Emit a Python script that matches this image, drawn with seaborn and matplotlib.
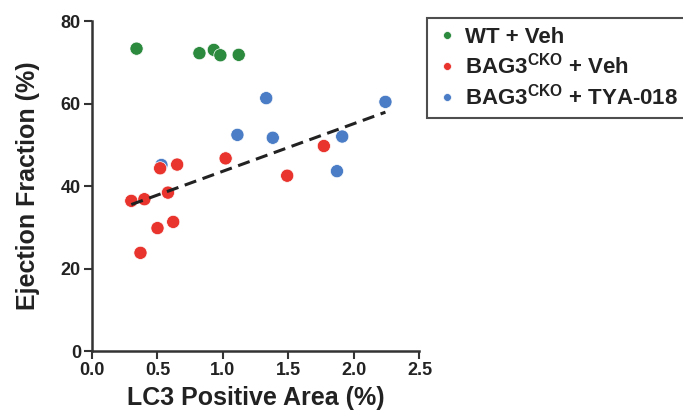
import numpy as np
import pandas as pd
import matplotlib
matplotlib.use("Agg")
import matplotlib.pyplot as plt
import seaborn as sns

# LC3 positive area (%) and ejection fraction (%) per animal
wt_veh_x = [0.34, 0.82, 0.93, 0.98, 1.12]
wt_veh_y = [73.3, 72.2, 73.0, 71.7, 71.8]

cko_veh_x = [0.30, 0.37, 0.40, 0.50, 0.52, 0.58, 0.62, 0.65, 1.02, 1.49, 1.77]
cko_veh_y = [36.4, 23.8, 36.8, 29.8, 44.3, 38.4, 31.3, 45.2, 46.7, 42.5, 49.7]

cko_tya_x = [0.53, 1.11, 1.33, 1.38, 1.87, 1.91, 2.24]
cko_tya_y = [45.1, 52.4, 61.3, 51.7, 43.6, 52.0, 60.4]

groups = ["WT + Veh", r"BAG3$^{\mathrm{CKO}}$ + Veh", r"BAG3$^{\mathrm{CKO}}$ + TYA-018"]
colors = ["#2b8a3e", "#e8342d", "#4a7dc6"]

x_ticks = [0.0, 0.5, 1.0, 1.5, 2.0, 2.5]
y_ticks = [0, 20, 40, 60, 80]

# rows ordered so that treated cKO points sit underneath, WT on top
df = pd.DataFrame({
    "LC3": cko_tya_x + cko_veh_x + wt_veh_x,
    "EF": cko_tya_y + cko_veh_y + wt_veh_y,
    "group": [groups[2]] * len(cko_tya_x) + [groups[1]] * len(cko_veh_x) + [groups[0]] * len(wt_veh_x),
})
cko = df[df["group"] != groups[0]]

sns.set_style("ticks")
plt.rcParams["font.family"] = ["Liberation Sans", "DejaVu Sans"]
plt.rcParams["font.weight"] = "bold"
plt.rcParams["mathtext.fontset"] = "custom"
plt.rcParams["mathtext.rm"] = "Liberation Sans:bold"
plt.rcParams["mathtext.bf"] = "Liberation Sans:bold"

fig = plt.figure(figsize=(6.83, 4.12), dpi=100)
ax = fig.add_axes([0.1347, 0.148, 0.4795, 0.801])

sns.scatterplot(data=df, x="LC3", y="EF", hue="group", hue_order=groups,
                palette=colors, s=90, edgecolor="white", linewidth=0.5, ax=ax, zorder=3)

# Linear fit across the two BAG3 cKO groups, drawn over the points
sns.regplot(data=cko, x="LC3", y="EF", ax=ax, scatter=False, ci=None, truncate=True,
            line_kws=dict(color="#222222", lw=2.2, ls=(0, (4, 2.2)), zorder=4))

ax.set_xlim(0, 2.5)
ax.set_ylim(0, 80)
ax.set_xticks(x_ticks)
ax.set_xticklabels([f"{t:.1f}" for t in x_ticks])
ax.set_yticks(y_ticks)
ax.set_yticklabels([str(t) for t in y_ticks])
ax.tick_params(axis="both", labelsize=13, width=1.5, length=6, color="#333333",
               labelcolor="#222222", pad=2)
for sp in ["left", "bottom"]:
    ax.spines[sp].set_linewidth(1.8)
    ax.spines[sp].set_color("#333333")
sns.despine(ax=ax)

ax.set_xlabel("LC3 Positive Area (%)", fontsize=18, fontweight="bold", color="#222222", labelpad=5)
ax.set_ylabel("Ejection Fraction (%)", fontsize=18, fontweight="bold", color="#222222", labelpad=15)

handles, labels = ax.get_legend_handles_labels()
ax.legend_.remove()
leg = fig.legend(handles, labels, loc="upper left",
                 bbox_to_anchor=(427 / 683, 1 - 18 / 412), bbox_transform=fig.transFigure,
                 borderaxespad=0, fancybox=False, frameon=True, edgecolor="#222222",
                 prop=dict(size=16, weight="bold"), markerscale=0.6,
                 handletextpad=0.3, handlelength=1.0, labelspacing=0.22, borderpad=0.4)
leg.get_frame().set_linewidth(1.5)
for t in leg.get_texts():
    t.set_color("#222222")

fig.savefig("out.png", dpi=100)
